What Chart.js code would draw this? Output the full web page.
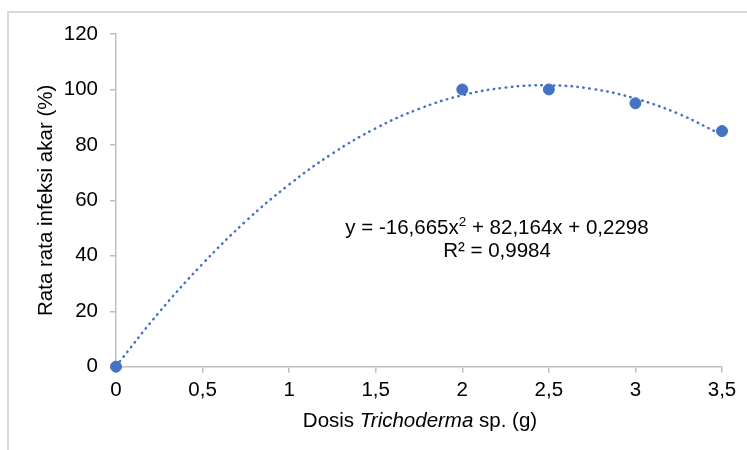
<!DOCTYPE html>
<html>
<head>
<meta charset="utf-8">
<script src="https://cdn.jsdelivr.net/npm/chart.js@4"></script>
<style>
  html, body { margin:0; padding:0; background:#fff; overflow:hidden; }
  #wrap { position:relative; width:747px; height:450px; }
</style>
</head>
<body>
<div id="wrap"><canvas id="infeksiChart" width="747" height="450"></canvas></div>
<script>
// =====================================
// DATA
// =====================================

// dosis Trichoderma (g) dan rata-rata infeksi akar (%)
const dosis = [0, 2, 2.5, 3, 3.5];
const infeksi = [0, 100, 100, 95, 85];

// garis tren polinomial
const trendX = [0, 0.25, 0.5, 0.75, 1, 1.25, 1.5, 1.75, 2, 2.25, 2.5, 2.75, 3, 3.25, 3.5];
const trendY = [0.2, 19.7, 37.1, 52.5, 65.7, 76.9, 86, 93, 97.9, 100.7, 101.5, 100.2, 96.7, 91.2, 83.6];

const persamaan = ["y = -16,665x", "2", " + 82,164x + 0,2298"];
const r2Text = "R² = 0,9984";

const BLUE = "#4472C4";
const AXIS = "#bfbfbf";
const FONT = "'Liberation Sans', Arial, sans-serif";
const FS = 20.5;

// =====================================
// PLUGIN: bingkai, persamaan, judul x
// =====================================

const extras = {
  id: "extras",
  beforeDraw(chart){
    const ctx = chart.ctx;
    ctx.save();
    ctx.strokeStyle = "#d9d9d9";
    ctx.lineWidth = 2;
    ctx.strokeRect(8, 12, 900, 600);
    ctx.restore();
  },
  afterDraw(chart){
    const ctx = chart.ctx;
    ctx.save();
    ctx.fillStyle = "#000";
    ctx.textBaseline = "middle";

    // persamaan tren
    const big = FS + "px " + FONT;
    const small = "13.5px " + FONT;
    ctx.font = big;
    const w1 = ctx.measureText(persamaan[0]).width;
    const w3 = ctx.measureText(persamaan[2]).width;
    ctx.font = small;
    const w2 = ctx.measureText(persamaan[1]).width;
    let x = 497 - (w1 + w2 + w3) / 2;
    const y1 = 228;
    ctx.textAlign = "left";
    ctx.font = big;
    ctx.fillText(persamaan[0], x, y1);
    x += w1;
    ctx.font = small;
    ctx.fillText(persamaan[1], x, y1 - 6);
    x += w2;
    ctx.font = big;
    ctx.fillText(persamaan[2], x, y1);

    ctx.textAlign = "center";
    ctx.fillText(r2Text, 497, 251);

    // judul sumbu x dengan huruf miring
    const parts = [
      ["Dosis ", FS + "px " + FONT],
      ["Trichoderma", "italic " + FS + "px " + FONT],
      [" sp. (g)", FS + "px " + FONT]
    ];
    let total = 0;
    parts.forEach(p => { ctx.font = p[1]; total += ctx.measureText(p[0]).width; });
    let tx = 420 - total / 2;
    ctx.textAlign = "left";
    parts.forEach(p => {
      ctx.font = p[1];
      ctx.fillText(p[0], tx, 421);
      tx += ctx.measureText(p[0]).width;
    });
    ctx.restore();
  }
};

// =====================================
// CHART
// =====================================

const canvas = document.getElementById("infeksiChart");

new Chart(canvas.getContext("2d"), {
  type: "scatter",
  data: {
    datasets: [
      {
        label: "Rata rata",
        data: dosis.map((d, i) => ({ x: d, y: infeksi[i] })),
        backgroundColor: BLUE,
        borderColor: BLUE,
        pointRadius: 5.5,
        pointHoverRadius: 5.5,
        clip: false,
        order: 1
      },
      {
        label: "Tren",
        data: trendX.map((d, i) => ({ x: d, y: trendY[i] })),
        showLine: true,
        borderColor: BLUE,
        borderWidth: 2.5,
        borderDash: [0.5, 5.5],
        borderCapStyle: "round",
        pointRadius: 0,
        tension: 0.4,
        clip: false,
        order: 2
      }
    ]
  },
  plugins: [extras],
  options: {
    responsive: false,
    animation: false,
    layout: { padding: { top: 34, right: 25, left: 0, bottom: 0 } },
    plugins: {
      legend: { display: false },
      tooltip: { enabled: false }
    },
    scales: {
      x: {
        type: "linear",
        min: 0,
        max: 3.5,
        afterFit(scale){ scale.height = 83.3; },
        border: { color: AXIS, width: 1.5 },
        grid: { drawOnChartArea: false, drawTicks: true, tickLength: 6, color: AXIS, lineWidth: 1.5 },
        ticks: {
          stepSize: 0.5,
          padding: 5,
          color: "#000",
          font: { family: FONT, size: FS },
          callback: v => String(v).replace(".", ",")
        },
        title: { display: false }
      },
      y: {
        min: 0,
        max: 120,
        afterFit(scale){ scale.width = 116; },
        border: { color: AXIS, width: 1.5 },
        grid: { drawOnChartArea: false, drawTicks: true, tickLength: 6, color: AXIS, lineWidth: 1.5 },
        ticks: {
          stepSize: 20,
          padding: 12,
          color: "#000",
          font: { family: FONT, size: FS }
        },
        title: {
          display: true,
          text: "Rata rata infeksi akar (%)",
          color: "#000",
          font: { family: FONT, size: FS },
          padding: { top: 34.5, bottom: 0 }
        }
      }
    }
  }
});
</script>
</body>
</html>
